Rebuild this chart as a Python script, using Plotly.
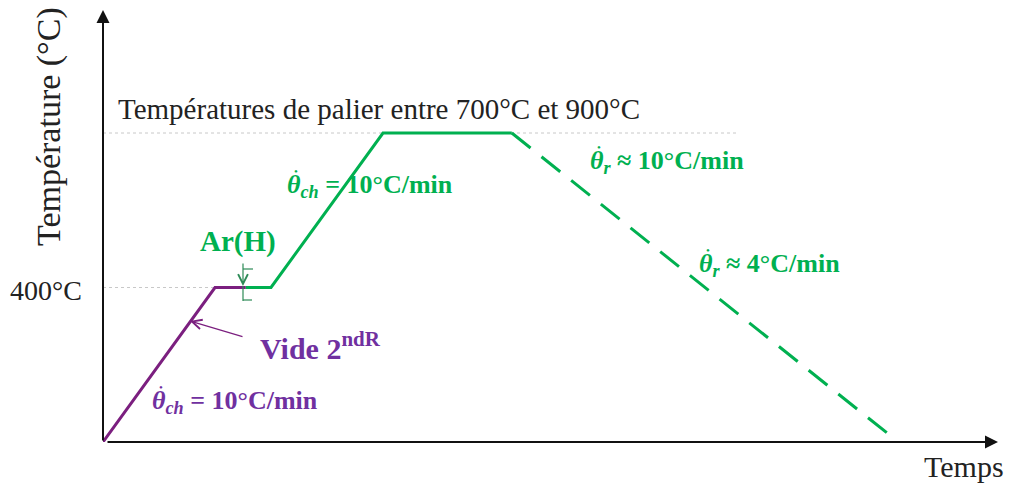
import plotly.graph_objects as go

# ---- data (time in min, temperature in °C) ----
vide_time = [0, 40, 51]
vide_temp = [0, 400, 400]
ar_time = [51, 60, 100, 146]
ar_temp = [400, 400, 800, 800]
cool_time = [146, 282]
cool_temp = [800, 12]
ref_levels = [400, 800]
ref_labels = ["400°C", "Températures de palier entre 700°C et 900°C"]

PURPLE = "#7B1F7F"
PURPLE_TXT = "#7030A0"
GREEN = "#00B050"
DKGREEN = "#2E8B57"
FONT = "Liberation Serif"

# page-pixel helpers (page has an 8px body margin)
X0, XS = 103, 2.8
Y0, YS = 442, 309 / 800
XR, YT = 998, 10
def dx(p): return (p - X0) / XS
def dy(p): return (Y0 - p) / YS
def px(p): return (p - X0) / (XR - X0)
def py(p): return (Y0 - p) / (Y0 - YT)

fig = go.Figure()

fig.add_trace(go.Scatter(x=[0, dx(215)], y=[ref_levels[0]] * 2, mode="lines",
                         line=dict(color="#C8C8C8", width=1, dash="dot"), hoverinfo="skip"))
fig.add_trace(go.Scatter(x=[0, dx(738)], y=[ref_levels[1]] * 2, mode="lines",
                         line=dict(color="#C8C8C8", width=1, dash="dot"), hoverinfo="skip"))
fig.add_trace(go.Scatter(x=vide_time, y=vide_temp, mode="lines",
                         line=dict(color=PURPLE, width=3), hoverinfo="skip"))
fig.add_trace(go.Scatter(x=ar_time, y=ar_temp, mode="lines",
                         line=dict(color=GREEN, width=3), hoverinfo="skip"))
fig.add_trace(go.Scatter(x=cool_time, y=cool_temp, mode="lines",
                         line=dict(color=GREEN, width=3, dash="24px,14px"), hoverinfo="skip"))

ann = []
ann.append(dict(x=1, y=0, ax=-(XR - X0 - 3), ay=0, xref="paper", yref="paper", axref="pixel", ayref="pixel",
                showarrow=True, arrowhead=2, arrowsize=1.3, arrowwidth=2, arrowcolor="#111", text=""))
ann.append(dict(x=0, y=1, ax=0, ay=(Y0 - YT), xref="paper", yref="paper", axref="pixel", ayref="pixel",
                showarrow=True, arrowhead=2, arrowsize=1.3, arrowwidth=2, arrowcolor="#111", text=""))

def txt(text, x, y, size, color="#222", xanchor="center", angle=0):
    ann.append(dict(text=text, x=px(x), y=py(y), xref="paper", yref="paper", showarrow=False,
                    xanchor=xanchor, yanchor="middle", textangle=angle,
                    font=dict(family=FONT, size=size, color=color)))

txt("Température (°C)", 49, 127, 34, angle=-90)
txt(ref_labels[0], 46, 290, 28)
txt(ref_labels[1], 116, 109, 29, xanchor="left")
txt("Temps", 964, 466, 30)

TH = "<i>θ</i>"
rate_labels = [
    (f"<b>{TH}<sub><i>ch</i></sub> = 10°C/min</b>", 285, 186, GREEN),
    (f"<b>{TH}<sub><i>r</i></sub> ≈ 10°C/min</b>", 588, 162, GREEN),
    (f"<b>{TH}<sub><i>r</i></sub> ≈ 4°C/min</b>", 697, 265, GREEN),
    (f"<b>{TH}<sub><i>ch</i></sub> = 10°C/min</b>", 150, 402, PURPLE_TXT),
]
for t, lx, cy, col in rate_labels:
    txt(t, lx, cy, 26, col, xanchor="left")
    txt("•", lx + 11, cy - 15, 11, col)

txt("<b>Vide 2<sup>ndR</sup></b>", 320, 346, 30, PURPLE_TXT)
txt("<b>Ar(H)</b>", 238, 242, 29, GREEN)

ann.append(dict(x=dx(190), y=dy(321), ax=dx(244), ay=dy(337), xref="x", yref="y",
                axref="x", ayref="y", showarrow=True, arrowhead=5, arrowsize=1.6,
                arrowwidth=1.2, arrowcolor=PURPLE, text=""))
ann.append(dict(x=dx(243), y=dy(286), ax=dx(243), ay=dy(262), xref="x", yref="y",
                axref="x", ayref="y", showarrow=True, arrowhead=5, arrowsize=1.6,
                arrowwidth=1.2, arrowcolor=DKGREEN, text=""))

shapes = [
    dict(type="line", xref="x", yref="y", x0=dx(243), x1=dx(243), y0=dy(286), y1=dy(301),
         line=dict(color=DKGREEN, width=1.2)),
    dict(type="line", xref="x", yref="y", x0=dx(243), x1=dx(253), y0=dy(269), y1=dy(269),
         line=dict(color=DKGREEN, width=1.2)),
    dict(type="line", xref="x", yref="y", x0=dx(243), x1=dx(252), y0=dy(300), y1=dy(300),
         line=dict(color=DKGREEN, width=1.2)),
]

W, H = 1007, 477
fig.update_layout(
    width=W, height=H,
    margin=dict(l=X0 - 8, r=W - (XR - 8), t=YT - 8, b=H - (Y0 - 8)),
    paper_bgcolor="white", plot_bgcolor="white",
    showlegend=False,
    xaxis=dict(range=[0, (XR - X0) / XS], visible=False, fixedrange=True),
    yaxis=dict(range=[0, (Y0 - YT) / YS], visible=False, fixedrange=True),
    annotations=ann, shapes=shapes,
)
fig.write_html("out.html")
